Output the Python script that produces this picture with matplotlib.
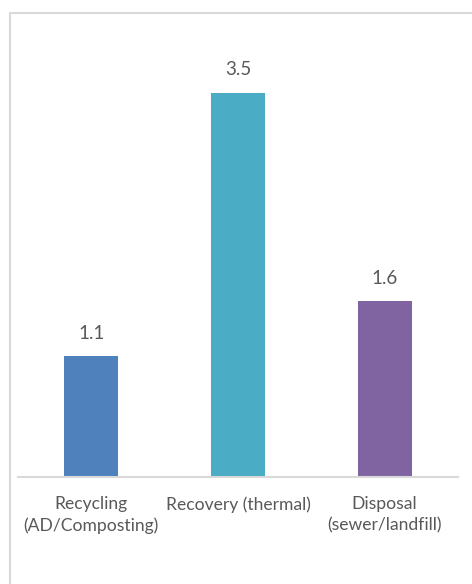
import matplotlib.pyplot as plt
from matplotlib.patches import Rectangle

categories = ["Recycling\n(AD/Composting)", "Recovery (thermal)", "Disposal\n(sewer/landfill)"]
values = [1.1, 3.5, 1.6]
colors = ["#4F81BD", "#4BACC6", "#8064A2"]

W, H = 472, 584
fig = plt.figure(figsize=(W / 100, H / 100), dpi=100)
plt.rcParams['font.family'] = ['Lato', 'DejaVu Sans']

# chart frame (cropped at right/bottom in the reference)
fig.patches.append(Rectangle((10 / W, -0.1), 1.2, 1 - 13 / H + 0.1,
                             transform=fig.transFigure, fill=False,
                             edgecolor="#d9d9d9", linewidth=1.5))

ax = fig.add_axes([18 / W, 1 - 477 / H, 440 / W, 439 / H])
x = range(len(values))
bars = ax.bar(x, values, width=0.368, color=colors)
ax.set_xlim(-0.5, 2.5)
ax.set_ylim(0, 4)

for b, v in zip(bars, values):
    ax.annotate(f"{v:.1f}", (b.get_x() + b.get_width() / 2, v),
                xytext=(0, 16.5), textcoords="offset points",
                ha="center", va="center", fontsize=13.5, color="#595959")

ax.set_xticks(list(x))
ax.set_xticklabels(categories, fontsize=12.6, color="#595959", linespacing=1.4)
ax.tick_params(axis="x", length=0, pad=14)
ax.set_yticks([])
for s in ["top", "right", "left"]:
    ax.spines[s].set_visible(False)
ax.spines["bottom"].set_color("#d9d9d9")
ax.spines["bottom"].set_linewidth(1.5)

fig.savefig("out.png", dpi=100)
